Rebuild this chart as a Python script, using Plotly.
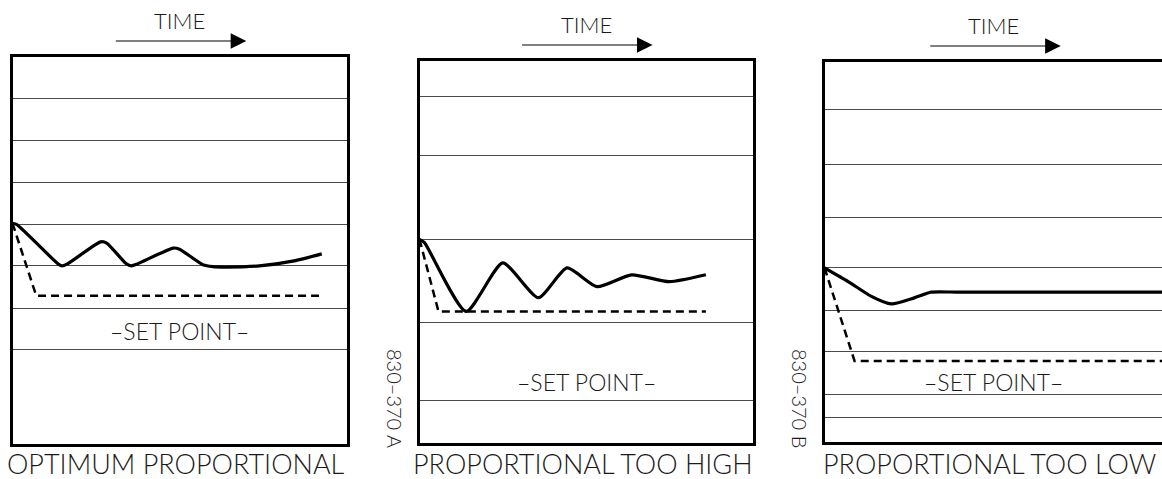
"""Controller response sketches: optimum / too high / too low proportional band"""

import plotly.graph_objects as go

W, H = 1162, 479

# every panel uses a 0-100 time axis and a 0-100 process-value axis
# --- panel 1: optimum proportional
opt_grid = [89.2, 78.2, 67.4, 56.7, 45.9, 34.9, 24.4]
opt_t = [0, 1.2, 13.4, 14.8, 16.6, 26.4, 28.2, 34.0, 35.6, 37.4, 48.1, 50.0, 57.0, 60.0, 64.1, 73.9, 84.3, 92.6]
opt_pv = [56.9, 56.6, 46.6, 45.9, 46.5, 52.1, 51.8, 46.5, 45.9, 46.4, 50.5, 50.2, 46.2, 45.7, 45.6, 45.9, 47.2, 49.0]
opt_sp_t = [0, 7.1, 92.6]
opt_sp = [56.9, 38.2, 38.2]

# --- panel 2: proportional too high
high_grid = [90.6, 75.1, 53.2, 31.4, 10.9]
high_t = [0, 1.5, 14.0, 25.0, 35.7, 44.3, 53.3, 63.7, 75.0, 86.0]
high_pv = [53.2, 52.3, 34.3, 47.0, 37.9, 45.7, 40.8, 43.9, 42.1, 43.9]
high_sp_t = [0, 5.7, 86.0]
high_sp = [53.2, 34.3, 34.3]

# --- panel 3: proportional too low
low_grid = [87.5, 72.8, 59.0, 45.7, 34.5, 23.8, 12.5, 6.3]
low_t = [0, 7.0, 13.9, 19.8, 26.6, 31.6, 40.0, 100]
low_pv = [45.7, 42.1, 38.2, 36.2, 37.8, 39.3, 39.3, 39.3]
low_sp_t = [0, 8.9, 100]
low_sp = [45.7, 21.2, 21.2]

captions = ["OPTIMUM PROPORTIONAL", "PROPORTIONAL TOO HIGH", "PROPORTIONAL TOO LOW"]
drawing_ids = [None, "830–370 A", "830–370 B"]

FONT = "Lato, DejaVu Sans, sans-serif"
TXT = "#1a1a1a"
LW = 3  # frame line width; plotly draws it just outside the domain

# box edges (pixels) -> domains, inset by half the frame width
boxes = [(11, 348, 55, 445), (418, 754, 59, 444), (823, None, 60, 443)]


def dom(box):
    l, r, t, b = box
    x0 = (l + LW / 2) / W
    x1 = 1.0 if r is None else (r - LW / 2) / W
    return [x0, x1], [1 - (b - LW / 2) / H, 1 - (t + LW / 2) / H]


panels = [
    dict(grid=opt_grid, t=opt_t, pv=opt_pv, sp_t=opt_sp_t, sp=opt_sp, sp_lbl=29.2, right=True),
    dict(grid=high_grid, t=high_t, pv=high_pv, sp_t=high_sp_t, sp=high_sp, sp_lbl=15.8, right=True),
    dict(grid=low_grid, t=low_t, pv=low_pv, sp_t=low_sp_t, sp=low_sp, sp_lbl=15.7, right=False),
]

fig = go.Figure()
annotations = []

for i, p in enumerate(panels):
    n = "" if i == 0 else str(i + 1)
    xa, ya = "x" + n, "y" + n
    xdom, ydom = dom(boxes[i])

    fig.add_trace(go.Scatter(
        x=p["sp_t"], y=p["sp"], xaxis=xa, yaxis=ya, mode="lines",
        line=dict(color="black", width=2.5, dash="8px,5px"),
        hoverinfo="skip",
    ))
    fig.add_trace(go.Scatter(
        x=p["t"], y=p["pv"], xaxis=xa, yaxis=ya, mode="lines",
        line=dict(color="black", width=3.2, shape="spline", smoothing=0.6),
        hoverinfo="skip",
    ))

    fig.update_layout({
        "xaxis" + n: dict(
            domain=xdom, range=[0, 100], anchor=ya,
            showgrid=False, zeroline=False, showticklabels=False, ticks="",
            showline=True, linecolor="black", linewidth=LW, mirror=True,
        ),
        "yaxis" + n: dict(
            domain=ydom, range=[0, 100], anchor=xa,
            tickmode="array", tickvals=p["grid"], showticklabels=False, ticks="",
            showgrid=True, gridcolor="#4a4a4a", gridwidth=1, zeroline=False,
            showline=True, linecolor="black", linewidth=LW, mirror=p["right"],
        ),
    })

    l, r, t, b = boxes[i]
    # TIME label and arrow above the box
    annotations.append(dict(
        xref=xa + " domain", yref="paper", x=0.5, y=1 - (t - 35) / H,
        xanchor="center", yanchor="middle",
        text="TIME", showarrow=False, font=dict(size=22, family=FONT, color=TXT, weight=300),
    ))
    annotations.append(dict(
        xref=xa + " domain", yref="paper", x=0.70, y=1 - (t - 14) / H,
        text="", showarrow=True, ax=-132, ay=0, axref="pixel", ayref="pixel",
        arrowhead=2, arrowsize=2.6, arrowwidth=1.2, arrowcolor="black", standoff=0,
    ))
    # set point label inside the box
    annotations.append(dict(
        xref=xa, yref=ya, x=50, y=p["sp_lbl"], xanchor="center", yanchor="middle",
        text="–SET POINT–", showarrow=False,
        font=dict(size=23, family=FONT, color=TXT, weight=300),
    ))
    # caption under the box
    annotations.append(dict(
        xref=xa + " domain", yref="paper", x=0.49, y=1 - 463.5 / H,
        xanchor="center", yanchor="middle",
        text=captions[i], showarrow=False,
        font=dict(size=27, family=FONT, color=TXT, weight=300),
    ))
    if drawing_ids[i]:
        annotations.append(dict(
            xref="paper", yref="paper", x=(l - 23) / W, y=1 - 398 / H,
            xanchor="center", yanchor="middle",
            text=drawing_ids[i], showarrow=False, textangle=90,
            font=dict(size=20, family=FONT, color=TXT, weight=300),
        ))

fig.update_layout(
    width=W, height=H,
    margin=dict(l=0, r=0, t=0, b=0, autoexpand=False),
    paper_bgcolor="white", plot_bgcolor="white",
    showlegend=False,
    annotations=annotations,
)

fig.write_html(
    "out.html",
    config={"displayModeBar": False, "staticPlot": True},
    post_script="document.body.style.margin='0px';",
)
